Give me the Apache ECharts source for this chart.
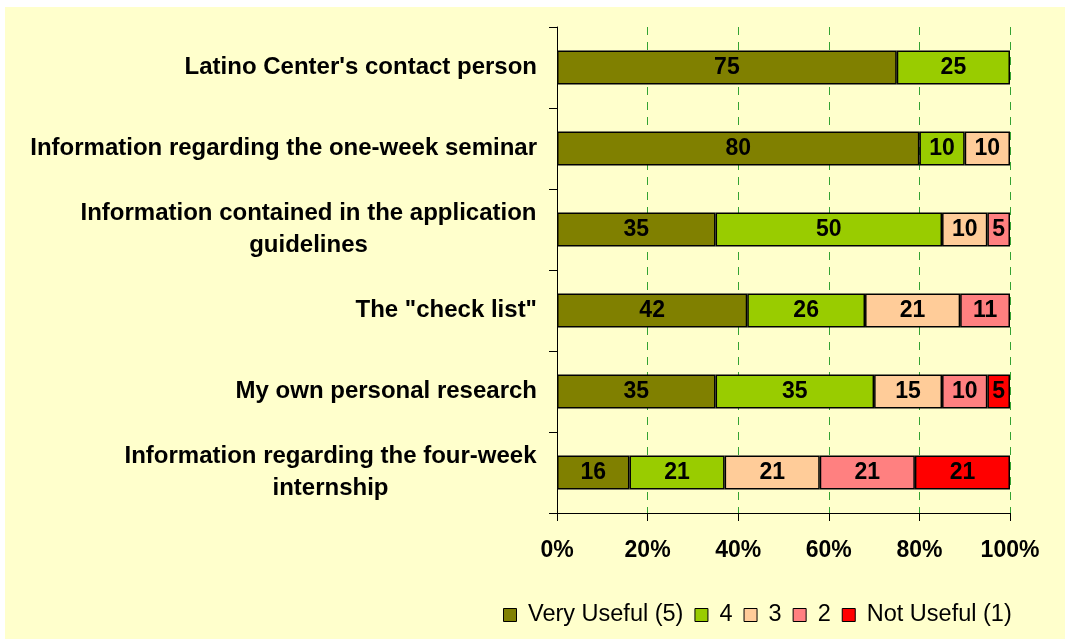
<!DOCTYPE html>
<html>
<head>
<meta charset="utf-8">
<script src="https://cdn.jsdelivr.net/npm/echarts@6/dist/echarts.min.js"></script>
<style>
html, body { margin: 0; padding: 0; background: #fff; }
#main { width: 1065px; height: 639px; }
</style>
</head>
<body>
<div id="main"></div>
<script>
var categories = [
  "Latino Center's contact person",
  "Information regarding the one-week seminar",
  "Information contained in the application\nguidelines",
  'The "check list"',
  "My own personal research",
  "Information regarding the four-week\ninternship"
];
var seriesNames = ["Very Useful (5)", "4", "3", "2", "Not Useful (1)"];
var veryUseful = [75, 80, 35, 42, 35, 16];
var four = [25, 10, 50, 26, 35, 21];
var three = [null, 10, 10, 21, 15, 21];
var two = [null, null, 5, 11, 10, 21];
var notUseful = [null, null, null, null, 5, 21];
var xTicks = [0, 20, 40, 60, 80, 100];

var colors = ["#808000", "#99CC00", "#FFCC99", "#FF8080", "#FF0000"];
var font = "Arial, 'Liberation Sans', sans-serif";
var catSize = 24;

// width of the longest line so wrapped labels can be centred under it
var ctx = document.createElement("canvas").getContext("2d");
ctx.font = "bold " + catSize + "px " + font;
function lineWidth(s) { return Math.ceil(ctx.measureText(s).width); }

var rich = {};
var labelKeys = {};
categories.forEach(function (c, i) {
  var lines = c.split("\n");
  if (lines.length > 1) {
    var w = Math.max.apply(null, lines.map(lineWidth));
    rich["c" + i] = { width: w, align: "center", fontWeight: "bold", fontSize: catSize, fontFamily: font, color: "#000", lineHeight: 32 };
    labelKeys[c] = "c" + i;
  }
});

var data = [veryUseful, four, three, two, notUseful];

var myChart = echarts.init(document.getElementById("main"));
var option = {
  backgroundColor: "#FFFFCC",
  animation: false,
  color: colors,
  graphic: [
    { type: "rect", left: 0, top: 0, shape: { width: 1065, height: 7 }, style: { fill: "#fff" } },
    { type: "rect", left: 0, top: 0, shape: { width: 5, height: 639 }, style: { fill: "#fff" } }
  ],
  grid: { left: 557, right: 55, top: 27, bottom: 126 },
  legend: {
    data: seriesNames,
    left: 498,
    top: 598,
    icon: "rect",
    itemWidth: 13,
    itemHeight: 13,
    itemGap: 11,
    formatter: function (n) { return " " + n; },
    itemStyle: { borderColor: "#000", borderWidth: 1 },
    textStyle: { fontSize: 23.5, fontFamily: font, color: "#000" }
  },
  xAxis: {
    type: "value",
    min: 0,
    max: 100,
    interval: 20,
    axisLine: { show: true, lineStyle: { color: "#000", width: 1 } },
    axisTick: { show: true, length: 8, lineStyle: { color: "#000" } },
    axisLabel: {
      margin: 26,
      fontSize: 23,
      fontWeight: "bold",
      fontFamily: font,
      color: "#000",
      formatter: function (v) { return xTicks.indexOf(v) >= 0 ? v + "%" : ""; }
    },
    splitLine: { show: true, lineStyle: { color: "#33A333", type: [8, 7], width: 1 } }
  },
  yAxis: {
    type: "category",
    inverse: true,
    data: categories,
    axisLine: { show: true, lineStyle: { color: "#000", width: 1 } },
    axisTick: { show: true, length: 8, lineStyle: { color: "#000" } },
    axisLabel: {
      margin: 20,
      fontSize: catSize,
      fontWeight: "bold",
      fontFamily: font,
      color: "#000",
      lineHeight: 32,
      formatter: function (v) {
        var k = labelKeys[v];
        if (!k) return v;
        return v.split("\n").map(function (l) { return "{" + k + "|" + l + "}"; }).join("\n");
      },
      rich: rich
    }
  },
  series: seriesNames.map(function (name, i) {
    return {
      name: name,
      type: "bar",
      stack: "total",
      barWidth: 34,
      data: data[i],
      itemStyle: { color: colors[i], borderColor: "#000", borderWidth: 1.5 },
      label: {
        show: true,
        position: "inside",
        fontSize: 23,
        fontWeight: "bold",
        fontFamily: font,
        color: "#000"
      }
    };
  })
};
myChart.setOption(option);
</script>
</body>
</html>
